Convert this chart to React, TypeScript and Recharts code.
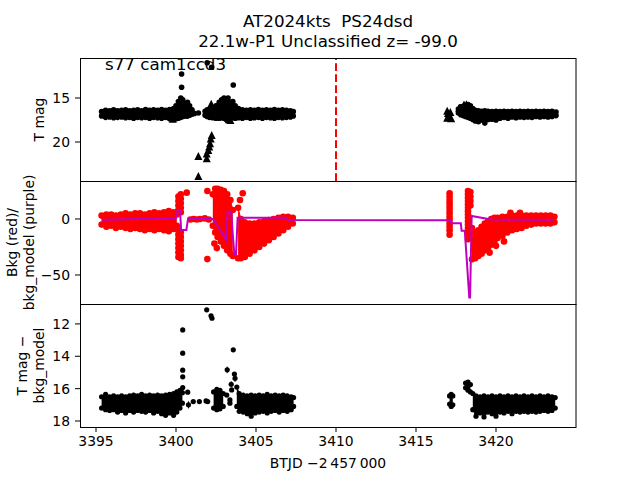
import React from 'react';
import { ComposedChart, Area, Line, Scatter, XAxis, YAxis, ReferenceLine, ErrorBar } from 'recharts';

// shared time axis (BTJD - 2457000)
const X_DOMAIN: [number, number] = [3394, 3425];
const X_TICKS = [3395, 3400, 3405, 3410, 3415, 3420];

// ---- panel 1: T mag ----
const MAG_DOMAIN: [number, number] = [10.455, 24.43];
const MAG_TICKS = [15, 20];
// [t, bright edge, faint edge]
const magBandA: [number, number, number][] = [
  [3395.35, 16.55, 17.05], [3395.6, 16.4, 17.2], [3395.85, 16.45, 17.15], [3396.1, 16.35, 17.25],
  [3396.35, 16.45, 17.2], [3396.6, 16.4, 17.15], [3396.85, 16.35, 17.25], [3397.1, 16.45, 17.2],
  [3397.35, 16.4, 17.3], [3397.6, 16.35, 17.2], [3397.85, 16.45, 17.25], [3398.1, 16.3, 17.2],
  [3398.35, 16.4, 17.3], [3398.6, 16.35, 17.2], [3398.85, 16.4, 17.25], [3399.1, 16.3, 17.3],
  [3399.35, 16.4, 17.2], [3399.6, 16.3, 17.35], [3399.85, 16.2, 17.3], [3400.0, 15.9, 17.35],
  [3400.15, 15.4, 17.3], [3400.3, 15.0, 17.2], [3400.42, 15.2, 17.1], [3400.55, 15.7, 17.0],
  [3400.72, 15.5, 17.05], [3400.85, 15.9, 16.95], [3401.0, 16.35, 16.85],
];
const magBandB: [number, number, number][] = [
  [3401.82, 16.5, 16.95], [3401.95, 16.35, 17.1], [3402.1, 16.25, 17.2], [3402.3, 16.2, 17.25],
  [3402.5, 15.9, 17.3], [3402.7, 15.5, 17.3], [3402.85, 15.2, 17.25], [3403.0, 15.0, 17.3],
  [3403.12, 15.1, 17.4], [3403.25, 15.0, 17.45], [3403.4, 15.5, 17.3], [3403.55, 15.4, 17.25],
  [3403.7, 15.9, 17.3], [3403.9, 16.2, 17.25], [3404.15, 16.35, 17.3], [3404.4, 16.4, 17.2],
  [3404.65, 16.35, 17.3], [3404.9, 16.4, 17.25], [3405.15, 16.3, 17.2], [3405.4, 16.4, 17.3],
  [3405.65, 16.35, 17.2], [3405.9, 16.4, 17.25], [3406.15, 16.3, 17.3], [3406.4, 16.4, 17.2],
  [3406.65, 16.35, 17.25], [3406.9, 16.4, 17.2], [3407.15, 16.45, 17.15], [3407.33, 16.55, 17.05],
];
const magBandC: [number, number, number][] = [
  [3417.65, 16.25, 16.7], [3417.8, 16.0, 16.9], [3417.95, 15.95, 17.0], [3418.1, 15.85, 17.1],
  [3418.25, 15.75, 17.2], [3418.4, 15.9, 17.3], [3418.55, 16.2, 17.45], [3418.7, 16.4, 17.6],
  [3418.9, 16.45, 17.7], [3419.1, 16.5, 17.5], [3419.3, 16.45, 17.85], [3419.5, 16.5, 17.45],
  [3419.75, 16.55, 17.4], [3420.0, 16.5, 17.5], [3420.25, 16.55, 17.3], [3420.5, 16.5, 17.2],
  [3420.75, 16.55, 17.3], [3421.0, 16.5, 17.15], [3421.25, 16.55, 17.25], [3421.5, 16.5, 17.15],
  [3421.75, 16.55, 17.2], [3422.0, 16.5, 17.15], [3422.25, 16.55, 17.2], [3422.5, 16.5, 17.1],
  [3422.75, 16.55, 17.15], [3423.0, 16.5, 17.1], [3423.25, 16.55, 17.15], [3423.5, 16.5, 17.1],
  [3423.75, 16.6, 17.0],
];
const magDots: [number, number][] = [
  [3400.35, 12.27], [3400.35, 13.78], [3401.95, 11.0], [3402.23, 11.5],
  [3403.58, 13.52], [3401.4, 16.7], [3401.15, 16.75],
];
const magTriangles: [number, number][] = [
  [3399.8, 17.35], [3400.5, 16.9], [3402.2, 15.65], [3403.4, 17.5], [3403.3, 17.4],
  [3401.4, 21.6], [3401.4, 23.85],
  [3401.92, 21.85], [3401.92, 21.3], [3402.02, 20.9], [3402.08, 20.5], [3402.13, 20.15],
  [3402.17, 19.6], [3402.23, 19.2],
  [3416.95, 16.45], [3417.0, 16.7], [3417.05, 16.95], [3417.1, 17.2], [3417.2, 17.3],
  [3416.95, 17.25], [3417.15, 16.6],
  [3417.7, 16.1], [3417.75, 16.35], [3418.0, 15.75], [3418.15, 15.7],
];
const MARK_T = 3410;

// ---- panel 2: background flux and model ----
const BKG_DOMAIN: [number, number] = [-75.9, 33.9];
const BKG_TICKS = [-50, 0];
const bkgBandA: [number, number, number][] = [
  [3395.35, 3, -5], [3395.65, 4, -7], [3395.95, 4, -6], [3396.25, 3, -8], [3396.55, 4, -7],
  [3396.85, 5, -8], [3397.15, 4, -9], [3397.45, 5, -8], [3397.75, 5, -9], [3398.05, 4, -10],
  [3398.35, 5, -9], [3398.65, 6, -10], [3398.95, 5, -9], [3399.25, 6, -10], [3399.55, 7, -11],
  [3399.85, 6, -9], [3400.05, 4, -6],
];
const bkgBandB: [number, number, number][] = [
  [3402.3, 22, -6], [3402.45, 27, -12], [3402.6, 27, -16], [3402.8, 26, -20],
  [3403.0, 25, -24], [3403.2, 22, -28], [3403.4, 17, -31], [3403.55, 8, -33],
];
const bkgBandC: [number, number, number][] = [
  [3403.88, 10, -35], [3404.05, 0, -35], [3404.3, -3, -34], [3404.6, -4, -31], [3404.9, -4, -28],
  [3405.2, -3, -25], [3405.5, -2, -22], [3405.8, -1, -19], [3406.1, 0, -16], [3406.4, 1, -13],
  [3406.7, 2, -10], [3407.0, 2, -7], [3407.3, 1, -4],
];
const bkgBandD: [number, number, number][] = [
  [3418.5, -8, -36], [3418.7, -12, -35], [3418.9, -10, -33], [3419.1, -7, -31], [3419.3, -4, -28],
  [3419.5, -2, -26], [3419.7, 0, -23], [3419.9, 1, -20], [3420.1, 1, -17], [3420.4, 2, -15],
  [3420.7, 2, -12], [3421.0, 3, -10], [3421.3, 3, -9], [3421.6, 3, -8], [3421.9, 3, -6],
  [3422.2, 3, -5], [3422.5, 3, -4], [3422.8, 3, -4], [3423.1, 3, -4], [3423.4, 3, -4],
  [3423.65, 2, -3],
];
const bkgColumns: [number, number[]][] = [
  [3400.15, [20, 16, 12, 8, -10, -14, -18, -22, -26, -30, -34]],
  [3400.3, [22, 18, 14, 10, 6, -12, -16, -20, -24, -28, -32, -35]],
  [3417.1, [23, 20, 17, 14, 11, 8, 5, 2, -1, -4, -7, -10, -14]],
  [3418.25, [25, 22, 19, 16, 13, 10, 7, 4, 1, -2, -5, -8, -11, -14, -18]],
  [3418.4, [24, 20, 16, 12]],
];
const bkgDots: [number, number][] = [
  [3400.67, 23.5], [3400.9, -0.5], [3401.1, 0], [3401.3, -0.5], [3401.5, 0], [3401.8, 0.5],
  [3402.05, -0.5], [3401.96, 25], [3401.96, -35.8], [3404.17, 23], [3404.0, 17],
  [3402.4, -22], [3402.55, -26], [3419.6, -30], [3420.0, -24], [3420.5, -20],
  [3420.9, 5.5], [3421.5, 5.5],
];
const bkgModel: [number, number][] = [
  [3395.35, -0.8], [3400.0, 0.6], [3400.1, 8], [3400.25, 8], [3400.32, -9.8], [3400.65, -9.8],
  [3400.75, 0], [3402.3, 0], [3402.55, -5], [3402.95, -14], [3403.15, -19], [3403.22, 6.5],
  [3403.45, 6.5], [3403.55, -14], [3403.65, -32], [3403.75, -32], [3403.85, 1.2], [3406.9, 1.2],
  [3407.0, -1], [3417.15, -1.2], [3417.2, -3.8], [3417.8, -3.8], [3417.85, -10.4], [3418.05, -10.4],
  [3418.33, -70], [3418.38, -70], [3418.48, 2.7], [3419.7, -0.5], [3423.6, -0.8],
];

// ---- panel 3: T mag - bkg_model ----
const DIFF_DOMAIN: [number, number] = [10.77, 18.37];
const DIFF_TICKS = [12, 14, 16, 18];
const diffBandA: [number, number, number][] = [
  [3395.35, 16.5, 17.2], [3395.6, 16.35, 17.3], [3395.85, 16.5, 17.35], [3396.1, 16.45, 17.3],
  [3396.35, 16.5, 17.45], [3396.6, 16.45, 17.35], [3396.85, 16.5, 17.5], [3397.1, 16.45, 17.35],
  [3397.35, 16.4, 17.45], [3397.6, 16.45, 17.35], [3397.85, 16.35, 17.4], [3398.1, 16.45, 17.45],
  [3398.35, 16.4, 17.35], [3398.6, 16.45, 17.5], [3398.85, 16.4, 17.4], [3399.1, 16.45, 17.55],
  [3399.35, 16.4, 17.65], [3399.6, 16.35, 17.5], [3399.85, 16.3, 17.65], [3400.05, 16.2, 17.45],
  [3400.25, 16.1, 17.2], [3400.4, 16.25, 16.9],
];
const diffBandB: [number, number, number][] = [
  [3402.35, 16.2, 17.2], [3402.55, 16.05, 17.3], [3402.75, 16.1, 17.25], [3402.95, 16.3, 17.1],
];
const diffBandC: [number, number, number][] = [
  [3403.8, 15.9, 17.1], [3403.95, 16.3, 17.4], [3404.2, 16.4, 17.45], [3404.45, 16.45, 17.55],
  [3404.7, 16.4, 17.7], [3404.95, 16.45, 17.5], [3405.2, 16.4, 17.45], [3405.45, 16.45, 17.4],
  [3405.7, 16.35, 17.5], [3405.95, 16.45, 17.4], [3406.2, 16.4, 17.35], [3406.45, 16.45, 17.45],
  [3406.7, 16.4, 17.35], [3406.95, 16.45, 17.4], [3407.2, 16.5, 17.3], [3407.35, 16.55, 17.1],
];
const diffBandD: [number, number, number][] = [
  [3417.1, 16.45, 16.95], [3417.2, 16.35, 17.1], [3417.3, 16.45, 17.0],
];
const diffBandE: [number, number, number][] = [
  [3418.1, 15.65, 15.95], [3418.25, 15.6, 16.1], [3418.4, 15.75, 16.2],
];
const diffBandF: [number, number, number][] = [
  [3418.55, 16.3, 17.3], [3418.75, 16.45, 17.7], [3419.0, 16.5, 17.5], [3419.25, 16.45, 17.75],
  [3419.5, 16.5, 17.45], [3419.75, 16.45, 17.55], [3420.0, 16.5, 17.7], [3420.25, 16.45, 17.45],
  [3420.5, 16.5, 17.5], [3420.75, 16.45, 17.4], [3421.0, 16.5, 17.55], [3421.25, 16.45, 17.4],
  [3421.5, 16.5, 17.45], [3421.75, 16.45, 17.4], [3422.0, 16.5, 17.45], [3422.25, 16.45, 17.4],
  [3422.5, 16.5, 17.45], [3422.75, 16.45, 17.4], [3423.0, 16.5, 17.35], [3423.25, 16.45, 17.4],
  [3423.5, 16.5, 17.35], [3423.7, 16.55, 17.2],
];
const diffDots: [number, number][] = [
  [3400.42, 12.37], [3400.42, 13.81], [3400.42, 14.86], [3400.42, 15.27], [3400.42, 15.93],
  [3400.73, 16.22], [3401.08, 16.8], [3401.46, 16.8], [3401.88, 16.76],
  [3401.98, 16.8], [3401.92, 11.13], [3402.19, 11.5], [3402.25, 11.65],
  [3403.17, 16.4], [3403.37, 16.7], [3403.37, 16.9], [3403.48, 16.08],
  [3403.58, 13.6], [3403.65, 15.1],
];
// [t, value, error] for the points with visible error bars
const diffErrDots: [number, number, number][] = [
  [3400.78, 17.0, 0.22], [3403.2, 14.84, 0.2], [3403.69, 15.36, 0.22], [3403.45, 15.73, 0.18],
];

const rangeRows = (b: [number, number, number][]) => b.map(([t, a, c]) => ({ t, r: [a, c] }));
const edgeRows = (bands: [number, number, number][][]) =>
  bands.flatMap((b) => b.flatMap(([t, a, c]) => [{ t, v: a }, { t, v: c }]));
const pointRows = (p: [number, number][]) => p.map(([t, v]) => ({ t, v }));
const columnRows = (cols: [number, number[]][]) => cols.flatMap(([t, vs]) => vs.map((v) => ({ t, v })));
const errRows = (p: [number, number, number][]) => p.map(([t, v, e]) => ({ t, v, e }));

const FONT = 'DejaVu Sans';
const tickStyle = { fill: '#000', fontSize: 13.9, fontFamily: FONT };
const fmt = (v: number) => (v < 0 ? '\u2212' + Math.abs(v) : String(v));

const dot = (r: number, fill: string) => (p: any) => <circle cx={p.cx} cy={p.cy} r={r} fill={fill} />;
const tri = (p: any) => (
  <polygon
    points={`${p.cx},${p.cy - 4} ${p.cx - 4},${p.cy + 4} ${p.cx + 4},${p.cy + 4}`}
    fill="#000"
  />
);

const band = (key: string, rows: [number, number, number][], color: string) => (
  <Area
    key={key}
    data={rangeRows(rows)}
    dataKey="r"
    type="linear"
    stroke={color}
    strokeWidth={1}
    fill={color}
    fillOpacity={1}
    dot={false}
    activeDot={false}
    isAnimationActive={false}
  />
);

function panelAxes(domain: [number, number], ticks: number[], reversed: boolean, showX: boolean) {
  return [
    <XAxis
      key="x"
      type="number"
      dataKey="t"
      domain={X_DOMAIN}
      allowDataOverflow
      hide={!showX}
      ticks={X_TICKS}
      interval={0}
      axisLine={false}
      tickSize={5}
      tickMargin={4}
      tick={tickStyle}
      tickLine={{ stroke: '#000' }}
      height={30}
    />,
    <YAxis
      key="y"
      type="number"
      dataKey="v"
      domain={domain}
      allowDataOverflow
      reversed={reversed}
      ticks={ticks}
      interval={0}
      width={60}
      axisLine={false}
      tickSize={5}
      tickMargin={5}
      tick={tickStyle}
      tickLine={{ stroke: '#000' }}
      tickFormatter={fmt}
    />,
  ];
}

const MARGIN = { top: 0, right: 64, bottom: 0, left: 20 };

export default function App() {
  return (
    <div style={{ position: 'absolute', left: 0, top: 0, width: 640, height: 480, background: '#fff', fontFamily: FONT }}>
      <div style={{ position: 'absolute', left: 0, top: 58 }}>
        <ComposedChart width={640} height={123} margin={MARGIN}>
          {panelAxes(MAG_DOMAIN, MAG_TICKS, true, false)}
          {band('a', magBandA, '#000')}
          {band('b', magBandB, '#000')}
          {band('c', magBandC, '#000')}
          <Scatter data={edgeRows([magBandA, magBandB, magBandC])} shape={dot(2.8, '#000')} isAnimationActive={false} />
          <Scatter data={pointRows(magDots)} shape={dot(2.8, '#000')} isAnimationActive={false} />
          <Scatter data={pointRows(magTriangles)} shape={tri} isAnimationActive={false} />
          <ReferenceLine x={MARK_T} stroke="#ff0000" strokeWidth={2} strokeDasharray="7.7 3.3" />
        </ComposedChart>
      </div>
      <div style={{ position: 'absolute', left: 0, top: 181 }}>
        <ComposedChart width={640} height={123} margin={MARGIN}>
          {panelAxes(BKG_DOMAIN, BKG_TICKS, false, false)}
          {band('a', bkgBandA, '#ff0000')}
          {band('b', bkgBandB, '#ff0000')}
          {band('c', bkgBandC, '#ff0000')}
          {band('d', bkgBandD, '#ff0000')}
          <Scatter data={edgeRows([bkgBandA, bkgBandB, bkgBandC, bkgBandD])} shape={dot(3.3, '#ff0000')} isAnimationActive={false} />
          <Scatter data={columnRows(bkgColumns)} shape={dot(3.3, '#ff0000')} isAnimationActive={false} />
          <Scatter data={pointRows(bkgDots)} shape={dot(3.3, '#ff0000')} isAnimationActive={false} />
          <Line
            data={pointRows(bkgModel)}
            dataKey="v"
            type="linear"
            stroke="#bf00bf"
            strokeWidth={2}
            dot={false}
            activeDot={false}
            isAnimationActive={false}
            zIndex={700}
          />
        </ComposedChart>
      </div>
      <div style={{ position: 'absolute', left: 0, top: 304 }}>
        <ComposedChart width={640} height={153} margin={MARGIN}>
          {panelAxes(DIFF_DOMAIN, DIFF_TICKS, true, true)}
          {band('a', diffBandA, '#000')}
          {band('b', diffBandB, '#000')}
          {band('c', diffBandC, '#000')}
          {band('d', diffBandD, '#000')}
          {band('e', diffBandE, '#000')}
          {band('f', diffBandF, '#000')}
          <Scatter
            data={edgeRows([diffBandA, diffBandB, diffBandC, diffBandD, diffBandE, diffBandF])}
            shape={dot(2.6, '#000')}
            isAnimationActive={false}
          />
          <Scatter data={pointRows(diffDots)} shape={dot(2.6, '#000')} isAnimationActive={false} />
          <Scatter data={errRows(diffErrDots)} shape={dot(2.6, '#000')} isAnimationActive={false}>
            <ErrorBar dataKey="e" direction="y" width={0} stroke="#000" strokeWidth={1} />
          </Scatter>
        </ComposedChart>
      </div>
      <svg width={640} height={480} style={{ position: 'absolute', left: 0, top: 0, pointerEvents: 'none' }} fontFamily={FONT}>
        <g fill="none" stroke="#000" strokeWidth={1}>
          <rect x={80.5} y={58.5} width={495.5} height={123} />
          <rect x={80.5} y={181.5} width={495.5} height={123} />
          <rect x={80.5} y={304.5} width={495.5} height={123} />
        </g>
        <text x={328} y={27} textAnchor="middle" fontSize={16.7}>AT2024kts{'\u00a0 '}PS24dsd</text>
        <text x={328} y={46.5} textAnchor="middle" fontSize={16.7}>22.1w-P1 Unclassified z= -99.0</text>
        <text x={105} y={70} fontSize={16.7}>s77 cam1ccd3</text>
        <text transform="translate(43.5,119.5) rotate(-90)" textAnchor="middle" fontSize={13.9}>T mag</text>
        <text transform="translate(17,242.5) rotate(-90)" textAnchor="middle" fontSize={13.9}>Bkg (red)/</text>
        <text transform="translate(34,242.5) rotate(-90)" textAnchor="middle" fontSize={13.9}>bkg_model (purple)</text>
        <text transform="translate(27,365.5) rotate(-90)" textAnchor="middle" fontSize={13.9}>T mag {'\u2212'}</text>
        <text transform="translate(43.5,365.5) rotate(-90)" textAnchor="middle" fontSize={13.9}>bkg_model</text>
        <text x={328} y={468} textAnchor="middle" fontSize={13.9}>BTJD {'\u2212'}2{'\u2009'}457{'\u2009'}000</text>
      </svg>
    </div>
  );
}
